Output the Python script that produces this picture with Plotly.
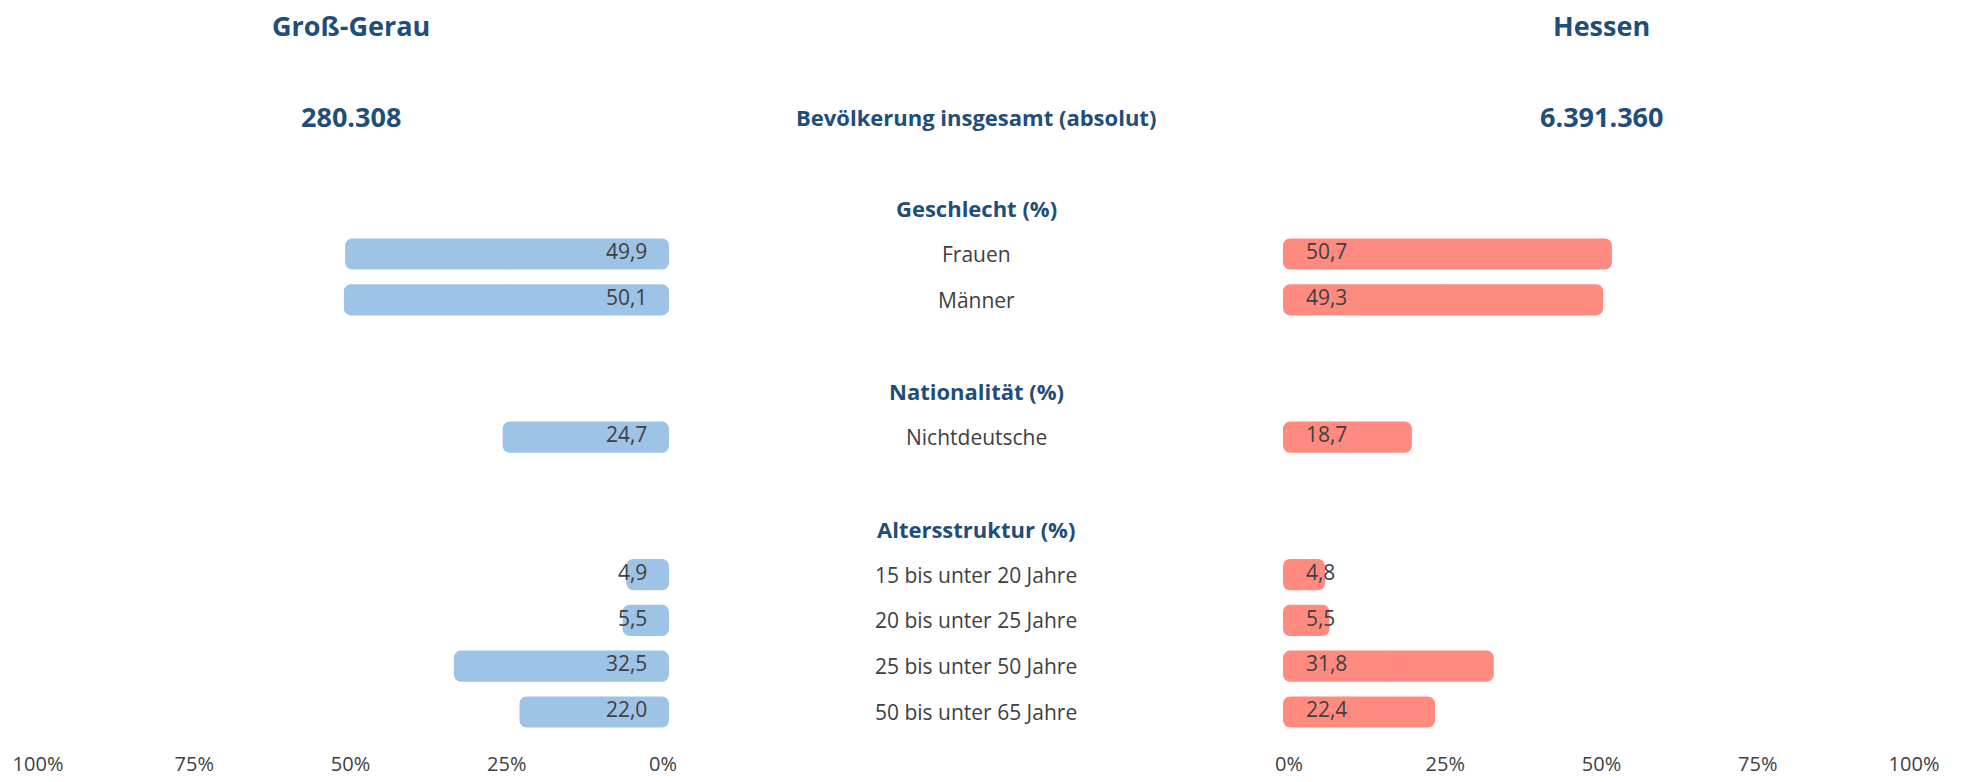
import plotly.graph_objects as go

# ---- data ----
region_left = "Groß-Gerau"
region_right = "Hessen"
total_left = "280.308"
total_right = "6.391.360"
total_label = "Bevölkerung insgesamt (absolut)"

sections = ["Geschlecht (%)", "Nationalität (%)", "Altersstruktur (%)"]
sex_categories = ["Frauen", "Männer"]
sex_left = [49.9, 50.1]
sex_right = [50.7, 49.3]
nat_categories = ["Nichtdeutsche"]
nat_left = [24.7]
nat_right = [18.7]
age_categories = ["15 bis unter 20 Jahre", "20 bis unter 25 Jahre",
                  "25 bis unter 50 Jahre", "50 bis unter 65 Jahre"]
age_left = [4.9, 5.5, 32.5, 22.0]
age_right = [4.8, 5.5, 31.8, 22.4]
tick_values = [0, 25, 50, 75, 100]
tick_labels = ["0%", "25%", "50%", "75%", "100%"]

# ---- layout of rows ----
W, H = 1963, 782
ROW = 45.8
TOP = 25.0
groups = [(sex_categories, sex_left, sex_right),
          (nat_categories, nat_left, nat_right),
          (age_categories, age_left, age_right)]

row = 4
header_rows, cat_rows, cats, lv, rv = [], [], [], [], []
for (c, l, r) in groups:
    header_rows.append(row)
    row += 1
    for i in range(len(c)):
        cat_rows.append(row)
        cats.append(c[i]); lv.append(l[i]); rv.append(r[i])
        row += 1
    row += 1

plot_bottom = 750
y_top = -TOP / ROW
y_bot = (plot_bottom - TOP) / ROW

PX = 6.25  # px per percent
L0, R0 = 663.0, 1289.0
PAD = 1.5
left_dom = [(L0 - (100 + PAD) * PX) / W, (L0 + PAD * PX) / W]
right_dom = [(R0 - PAD * PX) / W, (R0 + (100 + PAD) * PX) / W]
mid_x = (L0 + R0) / 2 / W

BLUE = "#9DC3E6"
RED = "#FF8A80"
HEAD = "#1F4E79"
TXT = "#404040"
FONT = "Open Sans"

def fmt(v):
    return f"{v:.1f}".replace(".", ",")

fig = go.Figure()
# each bar is drawn as two halves meeting at its midpoint so both ends get rounded
for vals, ax, col in [(lv, "x", BLUE), (rv, "x2", RED)]:
    mids = [v / 2 for v in vals]
    for sign in (1, -1):
        fig.add_trace(go.Bar(
            x=[sign * m for m in mids], base=mids, y=cat_rows, orientation="h",
            xaxis=ax, yaxis="y",
            marker=dict(color=col, line=dict(color=col, width=12), cornerradius=1),
            width=0.42, hoverinfo="skip", showlegend=False))

fig.add_trace(go.Scatter(
    x=[2.5] * len(lv), y=cat_rows, mode="text", text=[fmt(v) for v in lv],
    textposition="middle left", textfont=dict(family=FONT, size=21, color=TXT),
    xaxis="x", yaxis="y", hoverinfo="skip", showlegend=False, cliponaxis=False))
fig.add_trace(go.Scatter(
    x=[2.7] * len(rv), y=cat_rows, mode="text", text=[fmt(v) for v in rv],
    textposition="middle right", textfont=dict(family=FONT, size=21, color=TXT),
    xaxis="x2", yaxis="y", hoverinfo="skip", showlegend=False, cliponaxis=False))

ann = []
for txt, yr in [(region_left, 0), (total_left, 2)]:
    ann.append(dict(text=f"<b>{txt}</b>", x=50, xref="x", y=yr, yref="y",
                    showarrow=False, font=dict(family=FONT, size=27, color=HEAD)))
for txt, yr in [(region_right, 0), (total_right, 2)]:
    ann.append(dict(text=f"<b>{txt}</b>", x=50, xref="x2", y=yr, yref="y",
                    showarrow=False, font=dict(family=FONT, size=27, color=HEAD)))
ann.append(dict(text=f"<b>{total_label}</b>", x=mid_x, xref="paper", y=2, yref="y",
                showarrow=False, font=dict(family=FONT, size=22, color=HEAD)))
for s, yr in zip(sections, header_rows):
    ann.append(dict(text=f"<b>{s}</b>", x=mid_x, xref="paper", y=yr, yref="y",
                    showarrow=False, font=dict(family=FONT, size=22, color=HEAD)))
for c, yr in zip(cats, cat_rows):
    ann.append(dict(text=c, x=mid_x, xref="paper", y=yr, yref="y",
                    showarrow=False, font=dict(family=FONT, size=21, color=TXT)))

axis_common = dict(tickvals=tick_values, ticktext=tick_labels, showgrid=False,
                   zeroline=False, showline=False, ticks="", automargin=False,
                   tickfont=dict(family=FONT, size=20, color=TXT), fixedrange=True)
fig.update_layout(
    width=W, height=H,
    margin=dict(l=0, r=0, t=0, b=H - plot_bottom),
    paper_bgcolor="white", plot_bgcolor="white",
    barmode="overlay",
    xaxis=dict(domain=left_dom, range=[100 + PAD, -PAD], anchor="y", **axis_common),
    xaxis2=dict(domain=right_dom, range=[-PAD, 100 + PAD], anchor="y", **axis_common),
    yaxis=dict(range=[y_bot, y_top], visible=False, fixedrange=True),
    annotations=ann,
)
fig.write_html("out.html", config={"displayModeBar": False},
               post_script="document.body.style.margin='0';document.body.style.overflow='hidden';")
